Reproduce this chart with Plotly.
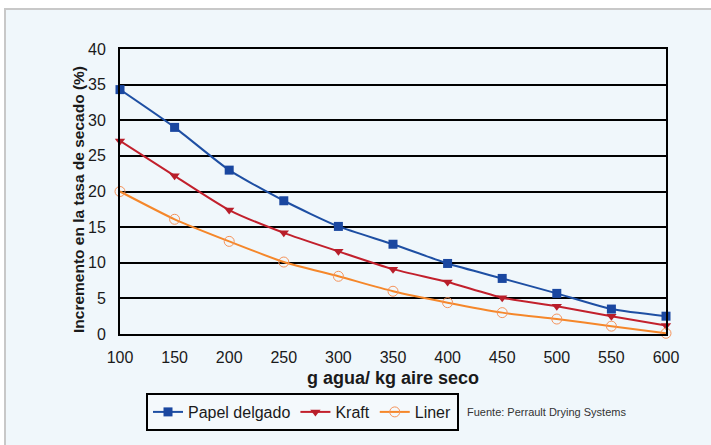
import plotly.graph_objects as go

x_vals = [100, 150, 200, 250, 300, 350, 400, 450, 500, 550, 600]
papel = [34.3, 29.0, 23.0, 18.7, 15.1, 12.6, 9.9, 7.8, 5.7, 3.5, 2.5]
kraft = [27.1, 22.2, 17.4, 14.2, 11.6, 9.1, 7.3, 5.1, 3.9, 2.5, 1.2]
liner = [20.0, 16.1, 13.0, 10.1, 8.1, 6.0, 4.4, 3.0, 2.1, 1.1, 0.1]
y_ticks = [0, 5, 10, 15, 20, 25, 30, 35, 40]
x_ticks = [100, 150, 200, 250, 300, 350, 400, 450, 500, 550, 600]

FONT = "Liberation Sans, Arial, sans-serif"
fig = go.Figure()
fig.add_trace(go.Scatter(x=x_vals, y=papel, name="Papel delgado", mode="lines+markers",
                         line=dict(color="#1E4FA3", width=2, shape="spline", smoothing=0.6),
                         marker=dict(symbol="square", size=9, color="#1A47A0"), cliponaxis=False))
fig.add_trace(go.Scatter(x=x_vals, y=kraft, name="Kraft", mode="lines+markers",
                         line=dict(color="#C2202C", width=2, shape="spline", smoothing=0.6),
                         marker=dict(symbol="triangle-down", size=9, color="#B81E2A"), cliponaxis=False))
fig.add_trace(go.Scatter(x=x_vals, y=liner, name="Liner", mode="lines+markers",
                         line=dict(color="#F5872A", width=2, shape="spline", smoothing=0.6),
                         marker=dict(symbol="circle-open", size=10, color="#F5935A", line=dict(width=1)),
                         cliponaxis=False))

L, R, T, B = 120, 666, 49, 334
W, H = R - L, B - T
def px(x): return (x - L) / W
def py(y): return (B - y) / H

fig.add_shape(type="rect", xref="paper", yref="paper", x0=px(5), x1=px(720), y0=py(9), y1=py(450),
              fillcolor="#F0F7FB", line=dict(color="#C8C8C8", width=2), layer="below")

fig.add_annotation(text="Fuente: Perrault Drying Systems", xref="paper", yref="paper",
                   x=px(465), y=py(412), xanchor="left", yanchor="middle", showarrow=False,
                   font=dict(size=11, color="#333333", family=FONT))
fig.add_annotation(text="<b>g agua/ kg aire seco</b>", xref="paper", yref="paper",
                   x=px(393), y=py(378), xanchor="center", yanchor="middle", showarrow=False,
                   font=dict(size=18, color="#1a1a1a", family=FONT))
fig.add_annotation(text="<b>Incremento en la tasa de secado (%)</b>", xref="paper", yref="paper",
                   x=px(78), y=py(200), xanchor="center", yanchor="middle", showarrow=False,
                   textangle=-90, font=dict(size=15.5, color="#1a1a1a", family=FONT))

fig.update_layout(
    width=711, height=445,
    margin=dict(l=L, r=711 - R, t=T, b=445 - B),
    paper_bgcolor="white", plot_bgcolor="white",
    font=dict(family=FONT, color="#1a1a1a"),
    showlegend=True,
    legend=dict(orientation="h", x=px(146), y=py(393), xanchor="left", yanchor="top",
                bordercolor="black", borderwidth=2, bgcolor="#F4F9FC",
                font=dict(size=16, family=FONT, color="#1a1a1a"), itemwidth=30,
                tracegroupgap=0),
)
fig.update_xaxes(range=[100, 600], tickvals=x_ticks, showgrid=False, showline=True, linecolor="black",
                 linewidth=2, mirror=True, ticks="", tickfont=dict(size=16), zeroline=False,
                 ticklabelstandoff=8)
fig.update_yaxes(range=[0, 40], tickvals=y_ticks, showgrid=True, gridcolor="black", gridwidth=2,
                 showline=True, linecolor="black", linewidth=2, mirror=True, ticks="",
                 tickfont=dict(size=16), zeroline=False, ticklabelstandoff=9)

fig.write_html("out.html")
